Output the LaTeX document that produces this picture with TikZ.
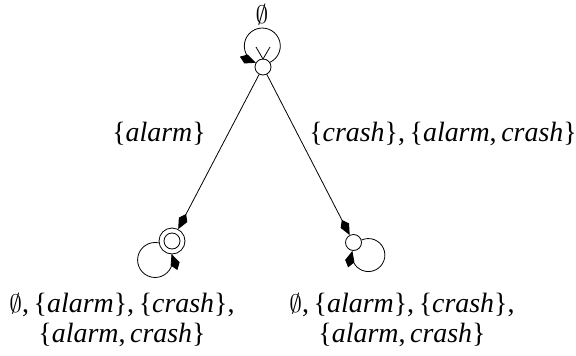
\documentclass[tikz,border=0pt]{standalone}
\usepackage{fontspec}
\setmainfont{Liberation Serif}
\usetikzlibrary{arrows.meta}
\newcommand{\alm}{\textit{alarm}}
\newcommand{\crs}{\textit{crash}}
\newcommand{\emp}{\resizebox{!}{19bp}{$\emptyset$}}
\begin{document}
\begin{tikzpicture}[x=1bp,y=1bp,
  every node/.style={font=\fontsize{28}{33}\selectfont},
  st/.style={circle,draw,line width=0.8bp,minimum size=16bp,inner sep=0pt},
  acc/.style={circle,draw,line width=0.8bp,minimum size=26bp,inner sep=0pt},
  tr/.style={line width=0.8bp,-{Kite[length=17bp,width=9.5bp,inset=6.5bp]}},
  lbl/.style={inner sep=0pt,align=center}]
\useasboundingbox (0,0) rectangle (576,355);
\node[st] (s0) at (263,288) {};
\node[acc] (s1) at (172,114) {};
\node[st] (s1in) at (172,114) {};
\node[st] (s2) at (353.5,112.5) {};
% initial marker
\coordinate (v0) at (263,296);
\coordinate (va) at (256,308);
\coordinate (vb) at (270,308);
\draw[line width=0.8bp] (va) -- (v0) -- (vb);
% loops
\draw[tr] (s0.34.5) arc[start angle=-64.8, end angle=248.8, radius=18];
\draw[tr] (s1.188.3) arc[start angle=78, end angle=380, radius=17.5];
\draw[tr] (s2.17.5) arc[start angle=114.5, end angle=-194.5, radius=16.5];
% edges
\draw[tr] (s0) -- (s1);
\draw[tr] (s0) -- (s2);
% labels
\node[lbl] (l0) at (262,340) {\emp};
\node[lbl] (l01) at (159,221) {\{\alm\}};
\node[lbl] (l02) at (443,221) {\{\crs\},\,\{\alm,\,\crs\}};
\node[lbl] (l1a) at (122,50) {\emp,\,\{\alm\},\,\{\crs\},};
\node[lbl] (l1b) at (122,20) {\{\alm,\,\crs\}};
\node[lbl] (l2a) at (402,50) {\emp,\,\{\alm\},\,\{\crs\},};
\node[lbl] (l2b) at (402,20) {\{\alm,\,\crs\}};
\end{tikzpicture}
\end{document}
